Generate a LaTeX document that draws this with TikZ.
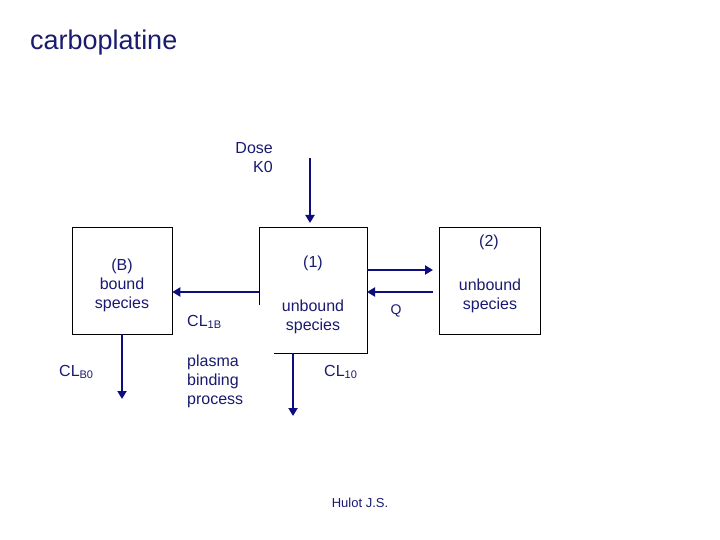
\documentclass[tikz,border=0pt]{standalone}
\usepackage{fontspec}
\setmainfont{Liberation Sans}
\usetikzlibrary{arrows.meta}
\definecolor{navy}{HTML}{1A1A70}
\definecolor{arr}{HTML}{0D0D80}
\begin{document}
\begin{tikzpicture}[x=1pt,y=-1pt,
  lbl/.style={text=navy,font=\fontsize{16}{19}\selectfont,align=center,inner sep=0},
  flow/.style={draw=arr,line width=2.5pt,-{Triangle[length=8pt,width=9pt]}},
  box/.style={draw=black,line width=0.6pt}]
\useasboundingbox (0,0) rectangle (720,540);
\node[lbl,font=\fontsize{27}{30}\selectfont,anchor=west] (title) at (30,43) {carboplatine};
\node[lbl,anchor=east,align=right] (dose) at (273,158) {Dose\\K0};
\node[box,minimum width=100,minimum height=107,inner sep=0] (B) at (122,280.5) {};
\coordinate (c1a) at (259,227); \coordinate (c1b) at (367,353);
\draw[box] (259,305) -- (259,227) -- (367,227) -- (367,353) -- (274,353);
\node[box,minimum width=101,minimum height=107,inner sep=0] (C2) at (489.5,280.5) {};
\node[lbl] (bl) at (122,285) {(B)\\bound\\species};
\node[lbl] (l1) at (313,263) {(1)};
\node[lbl] (u1) at (313,317) {unbound\\species};
\node[lbl] (l2) at (489,242) {(2)};
\node[lbl] (u2) at (490,296) {unbound\\species};
\node[lbl,anchor=west] (cl1b) at (187,322) {CL$_{\mbox{\fontsize{11}{11}\selectfont 1B}}$};
\node[lbl,anchor=west] (clb0) at (59,372) {CL$_{\mbox{\fontsize{11}{11}\selectfont B0}}$};
\node[lbl,anchor=west] (cl10) at (324,372) {CL$_{\mbox{\fontsize{11}{11}\selectfont 10}}$};
\node[lbl,anchor=north west,align=left] (pbp) at (187,355) {plasma\\binding\\process};
\node[lbl,font=\fontsize{14}{16}\selectfont] (q) at (396,311) {Q};
\node[lbl,font=\fontsize{13}{15}\selectfont] (hulot) at (360,503) {Hulot J.S.};
\coordinate (d0) at (310,158); \coordinate (d1) at (310,223);
\draw[flow] (d0) -- (d1);
\coordinate (r0) at (367,270); \coordinate (r1) at (433,270);
\draw[flow] (r0) -- (r1);
\coordinate (s0) at (433,292); \coordinate (s1) at (367,292);
\draw[flow] (s0) -- (s1);
\coordinate (t0) at (259,292);
\draw[flow] (t0) -- (B.east |- t0);
\coordinate (bd) at (122,399);
\draw[flow] (B.south) -- (bd);
\coordinate (e0) at (293,353); \coordinate (e1) at (293,416);
\draw[flow] (e0) -- (e1);
\end{tikzpicture}
\end{document}
